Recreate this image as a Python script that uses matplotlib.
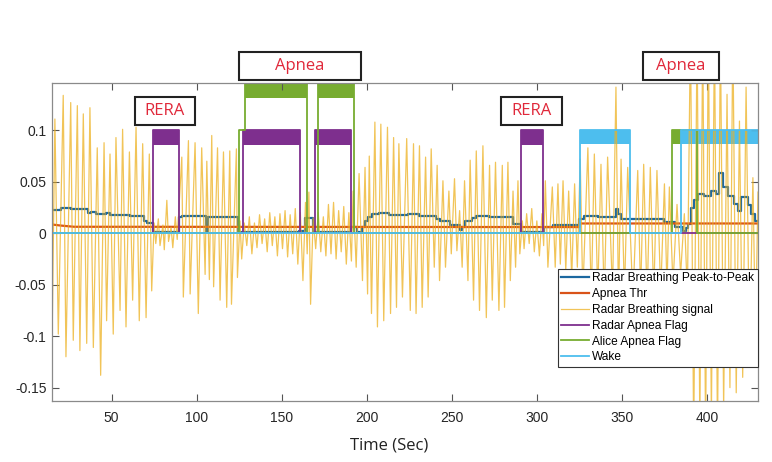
import matplotlib
matplotlib.use("Agg")
import matplotlib.pyplot as plt
from matplotlib.patches import Rectangle
import numpy as np

plt.rcParams["axes.unicode_minus"] = False
plt.rcParams["font.family"] = ["Liberation Sans", "DejaVu Sans"]

# radar breathing signal: alternating extremes (time s, amplitude)
sig_t = [15.0, 16.7, 18.7, 21.6, 23.2, 26.0, 27.5, 29.9, 31.4, 33.4, 35.4, 37.3, 39.3, 41.6,
         43.6, 45.6, 47.1, 49.1, 51.0, 52.6, 55.0, 56.5, 58.5, 60.5, 62.4, 64.4, 66.3, 68.3,
         70.3, 72.2, 73.6,
         75.0, 76.0, 77.5, 78.5, 80.2, 81.0, 82.5, 83.5, 85.0, 86.0, 87.5, 88.6,
         91.3, 92.2, 95.2, 96.2, 99.1, 101.0, 103.0, 105.0, 106.0, 107.5, 108.9, 110.0,
         112.3, 113.8, 115.8, 117.7, 119.5, 120.5, 123.4, 124.0,
         125.5, 126.5, 128.0, 129.5, 131.0, 132.5, 134.0, 135.5, 137.0, 138.5, 140.0, 141.5,
         143.0, 144.5, 146.0, 147.5, 149.0, 150.5, 152.0, 153.5, 155.0, 156.5, 158.0, 159.5,
         161.0, 162.5, 164.0, 165.0, 166.0, 167.0,
         168.5, 170.0, 171.5, 173.0, 174.5, 176.0, 177.5, 179.0, 180.5, 182.0, 183.5, 185.0,
         186.5, 188.0, 189.5, 191.0,
         192.0, 193.8, 195.5, 197.5, 199.0, 200.5, 201.5, 202.8, 204.8, 206.3, 208.3, 210.0,
         212.2, 214.0, 215.8, 217.5, 218.9, 221.0,
         223.5, 225.6, 227.5, 229.0, 231.0, 232.6, 234.6, 236.1, 237.9, 239.7, 241.4, 242.8,
         244.8, 246.3, 248.3, 249.7, 251.6, 253.0, 254.6, 256.1, 257.5, 259.5, 260.8, 262.8,
         264.4, 266.3, 268.3, 270.3, 272.2, 273.8, 275.7, 277.7, 279.7, 281.0, 283.0, 284.4,
         286.0, 287.5, 288.9, 290.0,
         291.5, 292.5, 294.0, 295.5, 297.0, 298.5, 300.0, 301.5, 303.0, 304.0,
         305.0, 306.5, 309.1, 310.8, 312.4, 313.8, 315.4, 317.0, 318.7, 320.5, 322.2, 323.8,
         325.5, 327.0, 330.0, 332.0, 333.8, 335.8, 337.7, 339.6, 341.6, 344.5, 346.5, 348.0,
         349.5, 351.5, 353.4, 356.5, 359.3, 361.0, 362.8, 364.8, 366.7, 368.7, 370.6, 372.8,
         375.0, 376.5, 377.9, 380.0, 382.4, 384.5, 386.7, 388.5,
         390.3, 392.2, 394.2, 395.8, 397.5, 399.2, 400.8, 402.6, 404.4, 406.2, 407.9, 409.8,
         411.8, 413.5, 415.2, 417.2, 419.1, 421.0, 423.0, 425.0, 427.0, 428.5, 430.0]
sig_v = [-0.111, 0.111, -0.098, 0.134, -0.120, 0.127, -0.104, 0.124, -0.114, 0.116, -0.107,
         0.122, -0.111, 0.083, -0.138, 0.088, -0.085, 0.077, -0.098, 0.093, -0.075, 0.101,
         -0.091, 0.079, -0.065, 0.103, -0.085, 0.087, -0.082, 0.077, -0.056,
         0.010, -0.010, 0.014, -0.012, 0.008, -0.016, 0.032, -0.008, 0.006, -0.014, 0.016, -0.006,
         0.074, -0.062, 0.090, -0.059, 0.088, -0.078, 0.083, -0.040, 0.070, -0.045, 0.095, -0.052,
         0.083, -0.065, 0.079, -0.072, 0.080, -0.069, 0.082, -0.043,
         0.012, -0.025, 0.010, -0.012, 0.016, -0.020, 0.010, -0.014, 0.018, -0.010, 0.014, -0.018,
         0.020, -0.012, 0.016, -0.022, 0.019, -0.015, 0.022, -0.023, 0.018, -0.020, 0.024, -0.030,
         0.020, -0.046, 0.030, -0.020, 0.040, -0.069,
         0.015, -0.015, 0.020, -0.018, 0.016, -0.022, 0.028, -0.020, 0.030, -0.025, 0.022, -0.018,
         0.026, -0.030, 0.020, -0.027,
         0.041, -0.033, 0.058, -0.046, 0.064, -0.059, 0.075, -0.078, 0.108, -0.091, 0.106, -0.085,
         0.103, -0.078, 0.093, -0.072, 0.087, -0.062,
         0.092, -0.075, 0.087, -0.078, 0.085, -0.072, 0.074, -0.062, 0.082, -0.033, 0.066, -0.046,
         0.051, -0.033, 0.041, -0.020, 0.053, -0.017, 0.022, -0.033, 0.051, -0.046, 0.071, -0.065,
         0.080, -0.075, 0.085, -0.082, 0.066, -0.065, 0.069, -0.075, 0.066, -0.072, 0.069, -0.046,
         0.041, -0.033, 0.051, -0.020,
         0.012, -0.015, 0.019, -0.010, 0.024, -0.018, 0.012, -0.022, 0.019, -0.012,
         0.051, -0.033, 0.045, -0.033, 0.048, -0.030, 0.051, -0.036, 0.041, -0.043, 0.048, -0.033,
         0.072, -0.060, 0.083, -0.065, 0.077, -0.060, 0.067, -0.066, 0.074, -0.058, 0.142, -0.070,
         0.072, -0.060, 0.064, -0.065, 0.061, -0.060, 0.067, -0.066, 0.064, -0.062, 0.061, -0.058,
         0.048, -0.055, 0.045, -0.050, 0.028, -0.040, 0.019, -0.060,
         0.200, -0.200, 0.200, -0.190, 0.200, -0.200, 0.200, -0.180, 0.200, -0.200, 0.200, -0.170,
         0.135, -0.150, 0.200, -0.155, 0.109, -0.140, 0.142, -0.120, 0.054, -0.100, 0.040]

# peak-to-peak envelope (step values)
p2p_t = [15, 20, 26, 36, 38, 41, 47, 49, 61, 69, 71, 74.6, 89.7, 91.3, 105.5, 106.5,
         124.4, 160, 164, 168.5, 191, 194.5, 197, 199, 201, 203, 207, 213, 224, 231, 241,
         243, 248.7, 254.6, 256, 258, 262, 264, 272, 286, 290.5, 304, 309.5, 325, 328, 336,
         346.5, 347.5, 349.5, 375, 381, 385.7, 387.5, 388.7, 390.6, 392.6, 394.6, 398.5,
         402.4, 405.3, 407.3, 409.3, 412.2, 416.1, 418, 420, 424, 426, 428, 430]
p2p_v = [0.0227, 0.025, 0.024, 0.020, 0.021, 0.019, 0.0195, 0.018, 0.017, 0.012, 0.010,
         0.001, 0.0155, 0.017, 0.001, 0.016, 0.001, 0.002, 0.015, 0.001, 0.0065, 0.001,
         0.006, 0.012, 0.016, 0.019, 0.020, 0.018, 0.019, 0.017, 0.014, 0.012, 0.008,
         0.003, 0.006, 0.012, 0.015, 0.017, 0.0155, 0.009, 0.001, 0.006, 0.0085, 0.014,
         0.017, 0.0155, 0.0236, 0.019, 0.014, 0.0107, 0.006, 0.0026, 0.005, 0.009, 0.025,
         0.032, 0.038, 0.0366, 0.041, 0.038, 0.059, 0.045, 0.0366, 0.028, 0.022, 0.035,
         0.027, 0.019, 0.012, 0.012]

thr_t = [15, 20, 28, 325, 325.2, 430]
thr_v = [0.0085, 0.0075, 0.0063, 0.006, 0.0095, 0.0095]

radar_flag_t = [15, 74.6, 89.7, 127.4, 160.7, 169.5, 190.5, 290.5, 303.6, 430]
radar_flag_v = [0, 0.1, 0, 0.1, 0, 0.1, 0, 0.1, 0, 0]
alice_flag_t = [15, 125.0, 128.7, 164.7, 171.5, 192.6, 379.3, 394.0, 430]
alice_flag_v = [0, 0.1, 0.15, 0, 0.15, 0, 0.1, 0, 0]
wake_t = [15, 325.2, 354.6, 384.8, 430]
wake_v = [0, 0.1, 0, 0.1, 0.1]

# highlighted bars (start, end, low, high)
purple_bars = [(74.6, 89.7), (127.4, 160.7), (169.5, 190.5), (290.5, 303.6)]
green_bars = [(128.7, 164.7, 0.131, 0.16), (171.5, 192.6, 0.131, 0.16), (379.3, 384.8, 0.087, 0.1)]
cyan_bars = [(325.2, 354.6), (384.8, 430)]

labels = ["RERA", "Apnea", "RERA", "Apnea"]
label_boxes = [(135, 97, 195, 125), (239, 52, 361, 80), (501, 97, 562, 125), (643, 52, 719, 80)]

c_blue = "#1c68a0"
c_orange = "#D95319"
c_yellow = "#EDB120"
c_purple = "#7E2F8E"
c_green = "#77AC30"
c_cyan = "#4DBEEE"

W, H = 772, 462
fig = plt.figure(figsize=(W / 100, H / 100), dpi=100)
ax = fig.add_axes([52 / W, 1 - 401 / H, (758 - 52) / W, (401 - 83) / H])

ax.plot(p2p_t, p2p_v, color=c_blue, lw=1.6, drawstyle="steps-post",
        label="Radar Breathing Peak-to-Peak")
ax.plot(thr_t, thr_v, color=c_orange, lw=1.6, label="Apnea Thr")
ax.plot(sig_t, sig_v, color=c_yellow, lw=0.9, alpha=0.75, label="Radar Breathing signal")
ax.plot(radar_flag_t, radar_flag_v, color=c_purple, lw=1.3, drawstyle="steps-post",
        label="Radar Apnea Flag")
ax.plot(alice_flag_t, alice_flag_v, color=c_green, lw=1.3, drawstyle="steps-post",
        label="Alice Apnea Flag")
ax.plot(wake_t, wake_v, color=c_cyan, lw=1.3, drawstyle="steps-post", label="Wake")

for a, b in purple_bars:
    ax.add_patch(Rectangle((a, 0.086), b - a, 0.014, color=c_purple, lw=0))
for a, b, lo, hi in green_bars:
    ax.add_patch(Rectangle((a, lo), b - a, hi - lo, color=c_green, lw=0))
for a, b in cyan_bars:
    ax.add_patch(Rectangle((a, 0.087), b - a, 0.013, color=c_cyan, lw=0))

ax.set_xlim(15, 430)
ax.set_ylim(-0.163, 0.146)
ax.set_xticks([50, 100, 150, 200, 250, 300, 350, 400])
ax.set_yticks([-0.15, -0.1, -0.05, 0, 0.05, 0.1])
ax.set_yticklabels(["-0.15", "-0.1", "-0.05", "0", "0.05", "0.1"])
ax.tick_params(direction="in", length=5, width=0.8, color="#555555", labelsize=10,
               labelcolor="#262626", top=True, right=True, pad=4)
ax.tick_params(axis="x", pad=7)
for s in ax.spines.values():
    s.set_color("#8a8a8a")
    s.set_linewidth(0.9)

leg = ax.legend(loc="lower right", bbox_to_anchor=(1.0, 0.107), fontsize=8.6,
                frameon=True, fancybox=False, framealpha=1, edgecolor="#333333",
                handlelength=2.3, handletextpad=0.3, labelspacing=0.32, borderpad=0.3,
                borderaxespad=0)
leg.get_frame().set_linewidth(0.8)

fig.text(389 / W, 1 - 445 / H, "Time (Sec)", ha="center", va="center", fontsize=12,
         family=["Open Sans", "DejaVu Sans"], color="#222222")

for txt, (x0, y0, x1, y1) in zip(labels, label_boxes):
    fig.add_artist(Rectangle((x0 / W, 1 - y1 / H), (x1 - x0) / W, (y1 - y0) / H,
                             transform=fig.transFigure, facecolor="white",
                             edgecolor="#222222", lw=1.5))
    fig.text((x0 + x1) / 2 / W, 1 - (y0 + y1) / 2 / H, txt, ha="center", va="center",
             fontsize=12, color="#E0283A", family=["Open Sans", "DejaVu Sans"])

fig.savefig("out.png", dpi=100)
